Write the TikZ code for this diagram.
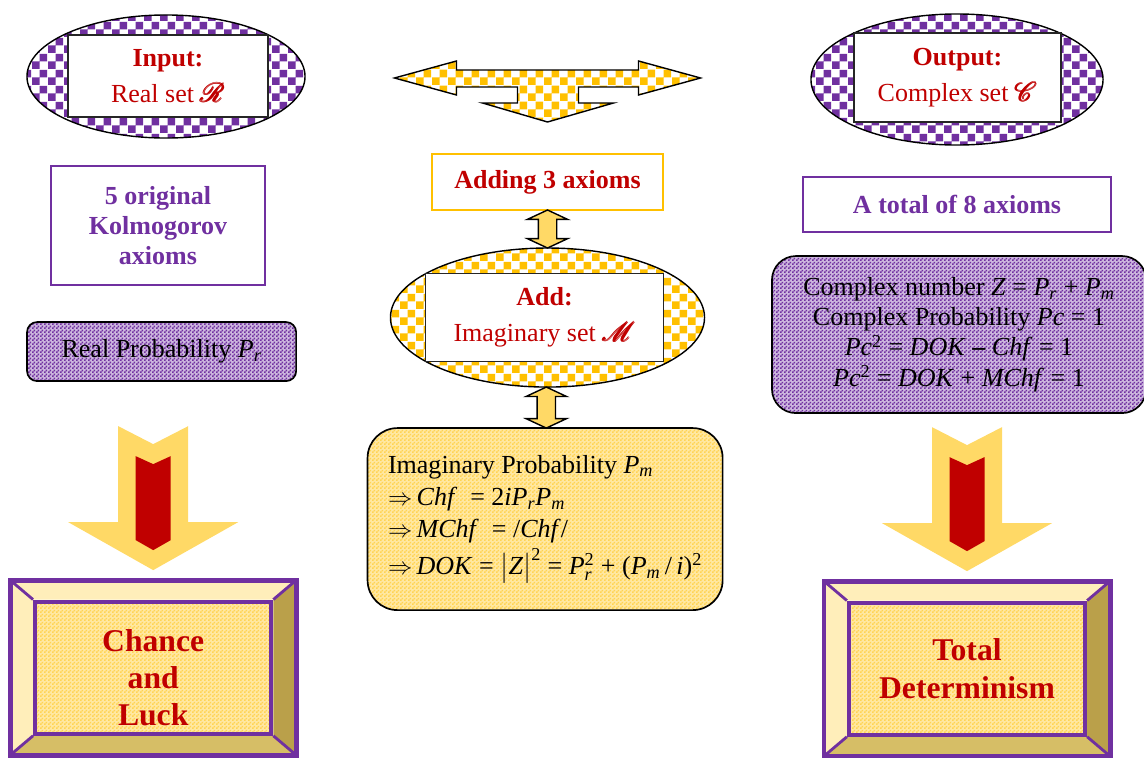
\documentclass[tikz,border=0pt]{standalone}
\usepackage{fontspec}
\setmainfont{Liberation Serif}
\usepackage{amsmath}
\usepackage{mathrsfs}
\usetikzlibrary{positioning, shapes.geometric, shapes.arrows, patterns, calc, backgrounds}

\definecolor{kpurple}{RGB}{112,48,160}
\definecolor{kred}{RGB}{192,0,0}
\definecolor{kgold}{RGB}{255,192,0}
\definecolor{kyellow}{RGB}{255,217,102}
\definecolor{bevdk}{RGB}{186,160,74}
\definecolor{bevmd}{RGB}{214,190,102}

\pgfdeclarepatternformonly{bigcheck}{\pgfpointorigin}{\pgfpoint{0.4cm}{0.4cm}}{\pgfpoint{0.4cm}{0.4cm}}{
	\pgfpathrectangle{\pgfpointorigin}{\pgfpoint{0.2cm}{0.2cm}}
	\pgfpathrectangle{\pgfpoint{0.2cm}{0.2cm}}{\pgfpoint{0.2cm}{0.2cm}}
	\pgfusepath{fill}}
\pgfdeclarepatternformonly{smallcheck}{\pgfpointorigin}{\pgfpoint{0.1cm}{0.1cm}}{\pgfpoint{0.1cm}{0.1cm}}{
	\pgfpathrectangle{\pgfpointorigin}{\pgfpoint{0.05cm}{0.05cm}}
	\pgfpathrectangle{\pgfpoint{0.05cm}{0.05cm}}{\pgfpoint{0.05cm}{0.05cm}}
	\pgfusepath{fill}}

\newcommand\setletter[1]{\scalebox{1.1}{$\pmb{\mathscr{#1}}$}}

\tikzset{
	setell/.style={
		ellipse,
		draw,
		line width=1pt,
		inner sep=0pt,
		outer sep=0pt,
		preaction={fill=white},
		pattern=bigcheck,
	},
	setbox/.style={
		rectangle,
		draw=black!85,
		line width=0.9pt,
		fill=white,
		inner sep=0pt,
		align=center,
		text=kred,
		font=\fontsize{18.5}{25.5}\selectfont,
	},
	axbox/.style={
		rectangle,
		draw=kpurple,
		line width=1.1pt,
		fill=white,
		inner sep=0pt,
		outer sep=0pt,
		align=center,
		font=\bfseries\fontsize{18.5}{21.5}\selectfont,
	},
	probbox/.style={
		rectangle,
		draw,
		line width=1.2pt,
		rounded corners=0.25cm,
		inner sep=0pt,
		outer sep=0pt,
		align=center,
		preaction={fill=kpurple!35},
		pattern=smallcheck,
		pattern color=kpurple,
		font=\fontsize{18.5}{21.5}\selectfont,
	},
	imbox/.style={
		rectangle,
		draw,
		line width=1.2pt,
		rounded corners=0.75cm,
		inner sep=0pt,
		outer sep=0pt,
		align=left,
		preaction={fill=kyellow!60},
		pattern=smallcheck,
		pattern color=kyellow!80!kgold,
		font=\fontsize{18.5}{23}\selectfont,
	},
	dblarrow/.style={
		double arrow,
		draw,
		line width=1pt,
		fill=kyellow,
		shape border rotate=90,
		inner sep=0.2125cm,
		minimum width=0cm,
		double arrow head extend=0.275cm,
		double arrow tip angle=130,
	},
	tarrow/.style={
		draw,
		line width=1pt,
		preaction={fill=white},
		pattern=bigcheck,
		pattern color=kgold,
	},
	bevout/.style={
		rectangle,
		draw=kpurple,
		line width=3.5pt,
		inner sep=0pt,
		outer sep=0pt,
		minimum width=7.15cm,
		minimum height=4.375cm,
	},
	bevin/.style={
		rectangle,
		draw=kpurple,
		line width=3pt,
		inner sep=0pt,
		minimum width=5.9cm,
		minimum height=3.3cm,
		align=center,
		text=kred,
		preaction={fill=kyellow!60},
		pattern=smallcheck,
		pattern color=kyellow!80!kgold,
		font=\bfseries\fontsize{22.5}{26.5}\selectfont,
	},
	bevline/.style={draw=kpurple, line width=2pt},
}

% bevel faces between an outer frame #1 and its inner face #2
\newcommand\bevelfill[2]{%
	\begin{scope}[on background layer]
		\fill[kyellow!45] (#1.north west) -- (#1.north east) -- (#2.north east) -- (#2.north west) -- cycle;
		\fill[kyellow!45] (#1.north west) -- (#2.north west) -- (#2.south west) -- (#1.south west) -- cycle;
		\fill[bevdk] (#1.north east) -- (#1.south east) -- (#2.south east) -- (#2.north east) -- cycle;
		\fill[bevmd] (#1.south west) -- (#2.south west) -- (#2.south east) -- (#1.south east) -- cycle;
	\end{scope}
	\draw[bevline] (#1.north west) -- (#2.north west) (#1.north east) -- (#2.north east)
		(#1.south west) -- (#2.south west) (#1.south east) -- (#2.south east);
}

% fat yellow arrow with red core, tip just above node #1
\newcommand\fatdown[1]{%
	\begin{scope}[shift={($(#1.north)+(0,-10)$)}]
		\fill[kyellow] (-35,-144) -- (0,-126) -- (35,-144) -- (35,-48) -- (85,-48) -- (0,0) -- (-85,-48) -- (-35,-48) -- cycle;
		\fill[kred] (-17.5,-114) -- (0,-106) -- (17.5,-114) -- (17.5,-30) -- (0,-20) -- (-17.5,-30) -- cycle;
	\end{scope}}

\begin{document}
\begin{tikzpicture}[x=0.025cm, y=-0.025cm, >=stealth]
		\useasboundingbox (0,0) rectangle (1144,757);

		% Place nodes
		\node[setell, pattern color=kpurple, minimum width=6.95cm, minimum height=3.075cm] (inp) at (166,76.5) {};
		\node[setbox, minimum width=5cm, minimum height=2.05cm] (inpt) at (168,76) {\textbf{Input:}\\Real set \setletter{R}};

		\node[setell, pattern color=kpurple, minimum width=7.3cm, minimum height=3.275cm] (outp) at (957,79.5) {};
		\node[setbox, minimum width=5.175cm, minimum height=2.225cm] (outpt) at (957.5,77.5) {\textbf{Output:}\\Complex set \setletter{C}};

		\node[axbox, draw=kgold, text=kred, minimum width=5.775cm, minimum height=1.4cm] (adding) at (547.5,182) {Adding 3 axioms};
		\node[setell, pattern color=kgold, below=0.95cm of adding, minimum width=7.85cm, minimum height=3.475cm] (addm) {};
		\node[setbox, minimum width=5.95cm, minimum height=2.2cm, xshift=-0.075cm] (addmt) at (addm) {\textbf{Add:}\\Imaginary set \setletter{M}};
		\node[imbox, below=1.025cm of addm, xshift=-0.06cm, minimum width=8.875cm, minimum height=4.55cm] (imag) {%
			Imaginary Probability \textit{P}\textsubscript{\textit{m}}\\
			$\Rightarrow$\,\textit{Chf}\ \ = 2\textit{iP}\textsubscript{\textit{r}}\textit{P}\textsubscript{\textit{m}}\\
			$\Rightarrow$\,\textit{MChf}\ \ = /\textit{Chf}/\\[3pt]
			$\Rightarrow$\,\textit{DOK} = $\bigl|$\textit{Z}$\bigr|^{\text{2}}$ = \textit{P}$^{\text{2}}_{\textit{r}}$ + (\textit{P}$_{\textit{m}}$\,/\,\textit{i})$^{\text{2}}$};

		\node[axbox, text=kpurple, below=0.7cm of inp, xshift=-0.2cm, minimum width=5.35cm, minimum height=2.975cm] (kolm) {5 original\\Kolmogorov\\axioms};
		\node[probbox, below=0.925cm of kolm, xshift=0.09cm, minimum width=6.725cm, minimum height=1.475cm] (realp) {Real Probability \textit{P}\textsubscript{\textit{r}}};
		\node[bevout, below=4.975cm of realp, xshift=-0.21cm] (chanceo) {};
		\node[bevin] (chance) at (chanceo) {\rule{0pt}{30pt}Chance\\and\\Luck};

		\node[axbox, text=kpurple, below=0.8cm of outp, minimum width=7.7cm, minimum height=1.375cm] (total8) {A total of 8 axioms};
		\node[probbox, below=0.6cm of total8, xshift=0.05cm, rounded corners=0.6cm, minimum width=9.35cm, minimum height=3.925cm] (cplx) {%
			Complex number \textit{Z} = \textit{P}\textsubscript{\textit{r}} + \textit{P}\textsubscript{\textit{m}}\\
			Complex Probability \textit{Pc} = 1\\
			\textit{Pc}\textsuperscript{2} = \textit{DOK} \textbf{--} \textit{Chf} = 1\\
			\textit{Pc}\textsuperscript{2} = \textit{DOK} + \textit{MChf} = 1};
		\node[bevout, below=4.2cm of cplx, xshift=0.2cm] (deto) {};
		\node[bevin] (det) at (deto) {Total\\Determinism};

		% Arrows
		\begin{scope}[shift={($(adding.north)+(0,-32)$)}]
			\draw[tarrow] (-153,-44) -- (-91,-61) -- (-91,-52) -- (91,-52) -- (91,-61) -- (153,-44)
				-- (91,-27) -- (91,-35) -- (31,-35) -- (31,-19) -- (66,-19) -- (0,0) -- (-65,-19)
				-- (-30,-19) -- (-30,-35) -- (-91,-35) -- (-91,-27) -- cycle;
		\end{scope}
		\node[dblarrow, minimum height=0.95cm] (link1) at ($(adding.south)!0.5!(addm.north)$) {};
		\node[dblarrow, minimum height=1.025cm] (link2) at ($(addm.south)!0.5!(imag.north)$) {};

		\fatdown{chanceo}
		\fatdown{deto}
		\bevelfill{chanceo}{chance}
		\bevelfill{deto}{det}

	\end{tikzpicture}
\end{document}
